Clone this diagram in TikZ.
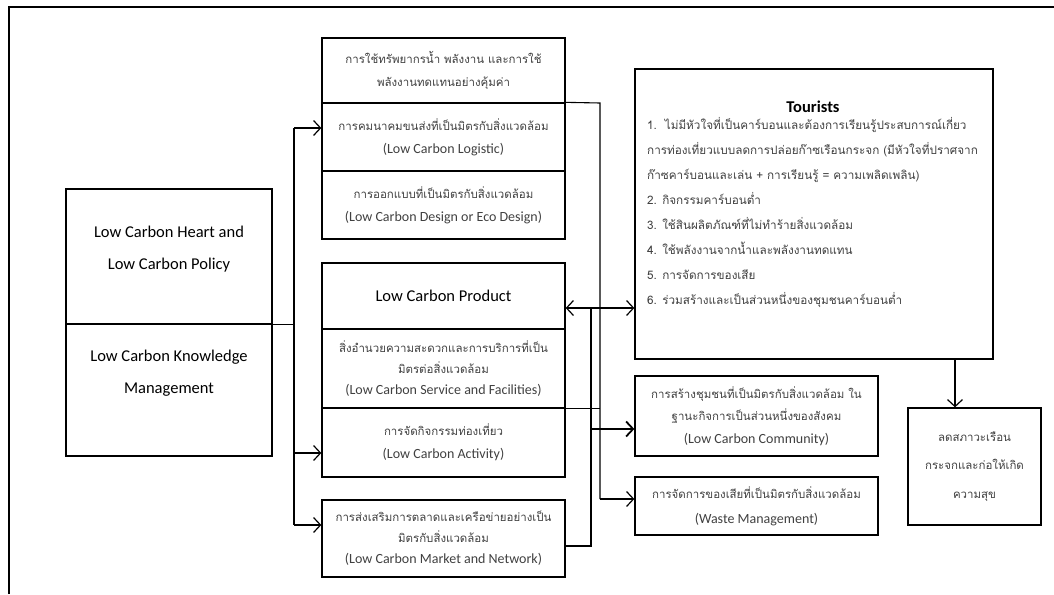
\documentclass[tikz,border=0pt]{standalone}
\usepackage{fontspec}
\setmainfont{Carlito}
\newfontfamily\thaifont[Script=Thai,Scale=0.82]{Loma}
\usetikzlibrary{arrows.meta}

\tikzset{
  frame/.style={line width=1.6pt},
  cell/.style={draw, line width=1.3pt, minimum width=243, inner sep=2pt,
    align=center, text=black!75, font=\fontsize{14}{23}\selectfont},
  bigcell/.style={draw, line width=1.3pt, minimum width=206, minimum height=132},
  headtext/.style={align=center, font=\fontsize{16.5}{32}\selectfont},
  link/.style={line width=1.1pt, >={Straight Barb[length=7pt,width=15pt,line width=1.2pt]}},
  bus/.style={line width=2.6pt, >={Straight Barb[length=7pt,width=15pt,line width=1.8pt]}},
}

\begin{document}
\begin{tikzpicture}[x=1pt, y=-1pt]
  \useasboundingbox (0,0) rectangle (1054,594);
  \draw[frame] (9,594) -- (9,7) -- (1054,7);

  % left block
  \node[bigcell, minimum height=135] (heart) at (169,256.5) {};
  \node[bigcell] (knowledge) at (169,390) {};
  \node[headtext] (hearttext) at (169,249) {Low Carbon Heart and\\Low Carbon Policy};
  \node[headtext] (knowtext) at (169,373) {Low Carbon Knowledge\\Management};

  % middle column
  \node[cell, minimum height=65] (water) at (443.5,70.5)
    {{\thaifont การใช้ทรัพยากรน้ำ พลังงาน และการใช้}\\{\thaifont พลังงานทดแทนอย่างคุ้มค่า}};
  \node[cell, minimum height=68] (logistic) at (443.5,137)
    {{\thaifont การคมนาคมขนส่งที่เป็นมิตรกับสิ่งแวดล้อม}\\(Low Carbon Logistic)};
  \node[cell, minimum height=68] (design) at (443.5,205)
    {{\thaifont การออกแบบที่เป็นมิตรกับสิ่งแวดล้อม}\\(Low Carbon Design or Eco Design)};
  \node[cell, minimum height=66, text=black, font=\fontsize{16.5}{20}\selectfont] (product) at (443.5,296)
    {Low Carbon Product};
  \node[cell, minimum height=79, font=\fontsize{14}{21}\selectfont] (service) at (443.5,368.5)
    {{\thaifont สิ่งอำนวยความสะดวกและการบริการที่เป็น}\\{\thaifont มิตรต่อสิ่งแวดล้อม}\\(Low Carbon Service and Facilities)};
  \node[cell, minimum height=69] (activity) at (443.5,442.5)
    {{\thaifont การจัดกิจกรรมท่องเที่ยว}\\(Low Carbon Activity)};
  \node[cell, minimum height=77, font=\fontsize{14}{21}\selectfont] (market) at (443.5,538.5)
    {{\thaifont การส่งเสริมการตลาดและเครือข่ายอย่างเป็น}\\{\thaifont มิตรกับสิ่งแวดล้อม}\\(Low Carbon Market and Network)};

  % right column
  \node[cell, minimum width=358, minimum height=290] (tourists) at (814,214) {};
  \node[font=\fontsize{16.5}{18}\selectfont\bfseries] (touriststitle) at (813,107) {Tourists};
  \node[anchor=north west, align=left, inner sep=0pt, text=black!75,
        font=\fontsize{14.3}{25}\selectfont\thaifont] (touristslist) at (647,117)
    {1.~~ไม่มีหัวใจที่เป็นคาร์บอนและต้องการเรียนรู้ประสบการณ์เกี่ยว\\
     การท่องเที่ยวแบบลดการปล่อยก๊าซเรือนกระจก (มีหัวใจที่ปราศจาก\\
     ก๊าซคาร์บอนและเล่น + การเรียนรู้ = ความเพลิดเพลิน)\\
     2. กิจกรรมคาร์บอนต่ำ\\
     3. ใช้สินผลิตภัณฑ์ที่ไม่ทำร้ายสิ่งแวดล้อม\\
     4. ใช้พลังงานจากน้ำและพลังงานทดแทน\\
     5. การจัดการของเสีย\\
     6. ร่วมสร้างและเป็นส่วนหนึ่งของชุมชนคาร์บอนต่ำ};
  \node[cell, minimum height=80, font=\fontsize{14}{22.5}\selectfont] (community) at (756.5,416)
    {{\thaifont การสร้างชุมชนที่เป็นมิตรกับสิ่งแวดล้อม ใน}\\{\thaifont ฐานะกิจการเป็นส่วนหนึ่งของสังคม}\\(Low Carbon Community)};
  \node[cell, minimum height=58, font=\fontsize{14}{25}\selectfont] (waste) at (756.5,506)
    {{\thaifont การจัดการของเสียที่เป็นมิตรกับสิ่งแวดล้อม}\\(Waste Management)};
  \node[cell, minimum width=133, minimum height=117, font=\fontsize{14}{28.5}\selectfont\thaifont] (happy) at (974.5,466.5)
    {ลดสภาวะเรือน\\กระจกและก่อให้เกิด\\ความสุข};

  % left trunk
  \coordinate (t1) at (294,128);
  \coordinate (t2) at (294,453);
  \coordinate (t3) at (294,525);
  \draw[link] (heart.south east) -- (heart.south east -| t1);
  \draw[link] (t1) -- (t3);
  \foreach \c/\n in {t1/logistic, t2/activity, t3/market}
    \draw[link, ->] (\c) -- (\c -| \n.west);

  % thin bus
  \coordinate (b1) at (600,103);
  \coordinate (b2) at (600,499);
  \draw[link] (logistic.north east) -- (b1) -- (b2);
  \draw[link] (service.south east) -- (service.south east -| b1);
  \draw[link, ->] (b2) -- (b2 -| waste.west);

  % thick bus
  \coordinate (k1) at (591,308);
  \coordinate (k2) at (591,429);
  \coordinate (k3) at (591,546);
  \draw[bus] (market.east |- k3) -- (k3) -- (k1) -- ++(26,0);
  \draw[link, <->] (product.east |- k1) -- (k1 -| tourists.west);
  \draw[bus, ->] (k2) -- (k2 -| community.west);

  % tourists to happiness
  \coordinate (h1) at (955,359);
  \draw[link, ->] (h1) -- (h1 |- happy.north);
\end{tikzpicture}
\end{document}
